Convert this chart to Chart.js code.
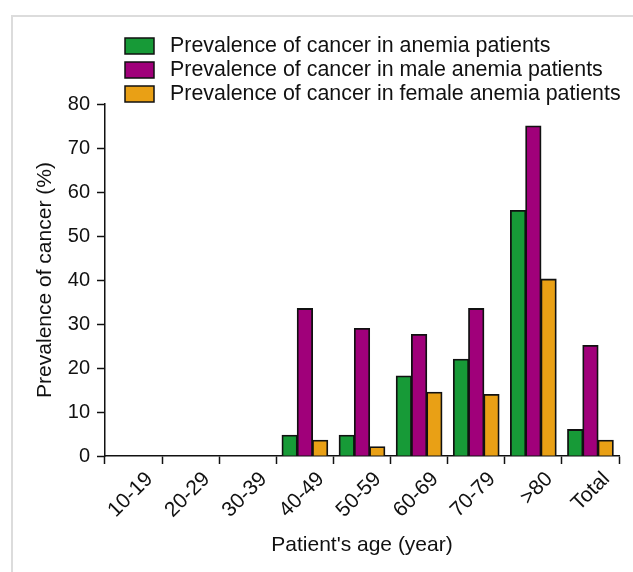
<!DOCTYPE html>
<html>
  <head>
    <title>Prevalence of cancer</title>
    <style>
      body {
        margin: 0;
        background: #fff;
        overflow: hidden;
      }

      .frame {
        position: absolute;
        left: 11px;
        top: 15px;
        width: 622px;
        height: 557px;
        border-left: 2px solid #dcdcdc;
        border-top: 2px solid #dcdcdc;
      }

      .chart-container {
        position: absolute;
        left: 0;
        top: 0;
        width: 633px;
        height: 572px;
      }
    </style>
  </head>
  <body>
    <div class="frame"></div>
    <div class="chart-container">
      <canvas id="cancerChart"></canvas>
    </div>

    <script src="https://cdn.jsdelivr.net/npm/chart.js"></script>
    <script>
      // Age groups (x axis)
      var ageGroups = ["10-19", "20-29", "30-39", "40-49", "50-59", "60-69", "70-79", ">80", "Total"];

      // Prevalence of cancer (%) per group
      var allPatients = [0, 0, 0, 4.7, 4.7, 18.2, 22.0, 55.8, 6.0];
      var malePatients = [0, 0, 0, 33.5, 29.0, 27.6, 33.5, 75.0, 25.1];
      var femalePatients = [0, 0, 0, 3.6, 2.1, 14.5, 14.0, 40.2, 3.6];

      var seriesNames = [
        "Prevalence of cancer in anemia patients",
        "Prevalence of cancer in male anemia patients",
        "Prevalence of cancer in female anemia patients",
      ];
      var seriesColors = ["#179a37", "#a0007a", "#e9a015"];

      var yMin = 0;
      var yMax = 80;
      var yStep = 10;

      var fontFamily = "'Liberation Sans', Arial, sans-serif";

      // Legend drawn as a stacked list at the top left, like the figure
      var stackedLegend = {
        id: "stackedLegend",
        afterDraw: function (chart) {
          var ctx = chart.ctx;
          ctx.save();
          ctx.font = "21.4px " + fontFamily;
          ctx.textBaseline = "middle";
          ctx.textAlign = "left";
          chart.data.datasets.forEach(function (ds, i) {
            var top = 38 + i * 24;
            ctx.fillStyle = ds.backgroundColor;
            ctx.fillRect(125, top, 29, 16);
            ctx.lineWidth = 1.5;
            ctx.strokeStyle = "#111";
            ctx.strokeRect(125, top, 29, 16);
            ctx.fillStyle = "#111";
            ctx.fillText(ds.label, 170, top + 8.5);
          });
          ctx.restore();
        },
      };

      new Chart(document.getElementById("cancerChart"), {
        type: "bar",
        data: {
          labels: ageGroups,
          datasets: [
            { label: seriesNames[0], data: allPatients, backgroundColor: seriesColors[0] },
            { label: seriesNames[1], data: malePatients, backgroundColor: seriesColors[1] },
            { label: seriesNames[2], data: femalePatients, backgroundColor: seriesColors[2] },
          ],
        },
        options: {
          responsive: true,
          maintainAspectRatio: false,
          animation: false,
          layout: {
            padding: { top: 104, right: 14, bottom: 0, left: 0 },
          },
          datasets: {
            bar: {
              categoryPercentage: 0.8,
              barPercentage: 1.0,
              borderColor: "#111",
              borderWidth: 1.8,
              borderSkipped: "start",
              inflateAmount: 0.5,
            },
          },
          plugins: {
            legend: { display: false },
            tooltip: { enabled: false },
          },
          scales: {
            x: {
              afterFit: function (scale) {
                scale.height = 116;
              },
              grid: {
                display: true,
                drawOnChartArea: false,
                drawTicks: true,
                tickLength: 8,
                tickWidth: 1.5,
                tickColor: "#111",
              },
              border: { display: true, color: "#111", width: 1.5 },
              ticks: {
                color: "#111",
                font: { family: fontFamily, size: 21 },
                minRotation: 45,
                maxRotation: 45,
                padding: 3,
                labelOffset: 16,
                autoSkip: false,
              },
              title: {
                display: true,
                text: "Patient's age (year)",
                color: "#111",
                font: { family: fontFamily, size: 21 },
                padding: { top: 0, bottom: 14 },
              },
            },
            y: {
              min: yMin,
              max: yMax,
              afterFit: function (scale) {
                scale.width = 105;
              },
              grid: {
                display: true,
                drawOnChartArea: false,
                drawTicks: true,
                tickLength: 8,
                tickWidth: 1.5,
                tickColor: "#111",
              },
              border: { display: true, color: "#111", width: 1.5 },
              ticks: {
                stepSize: yStep,
                color: "#111",
                padding: 7,
                font: { family: fontFamily, size: 20 },
              },
              title: {
                display: true,
                text: "Prevalence of cancer (%)",
                color: "#111",
                font: { family: fontFamily, size: 21 },
                padding: { top: 33, bottom: 0 },
              },
            },
          },
        },
        plugins: [stackedLegend],
      });
    </script>
  </body>
</html>
